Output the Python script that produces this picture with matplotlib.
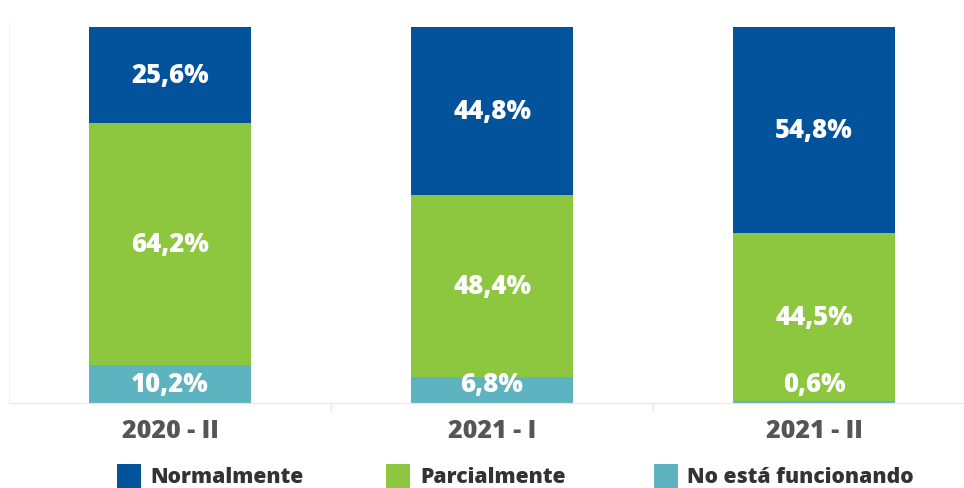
import matplotlib
matplotlib.use("Agg")
import matplotlib.pyplot as plt
from matplotlib.patches import Rectangle
import numpy as np

categories = ["2020 - II", "2021 - I", "2021 - II"]
no_funciona = [10.2, 6.8, 0.6]
parcialmente = [64.2, 48.4, 44.5]
normalmente = [25.6, 44.8, 54.8]
series_names = ["Normalmente", "Parcialmente", "No está funcionando"]

c_norm = "#03529C"
c_parc = "#8DC63F"
c_nof = "#5EB3C0"

plt.rcParams['font.family'] = ['Open Sans', 'DejaVu Sans']

W, H = 964, 489
fig = plt.figure(figsize=(W / 100, H / 100), dpi=100)
ax = fig.add_axes([9 / W, (H - 404) / H, (975 - 9) / W, (404 - 28) / H])

x = np.arange(len(categories))
bw = 0.503
ax.bar(x, no_funciona, bw, color=c_nof)
bottom2 = np.array(no_funciona)
ax.bar(x, parcialmente, bw, bottom=bottom2, color=c_parc)
bottom3 = bottom2 + np.array(parcialmente)
ax.bar(x, normalmente, bw, bottom=bottom3, color=c_norm)

def fmt(v):
    return f"{v:.1f}%".replace(".", ",")

lbl = dict(ha="center", va="center", color="white", fontsize=18.5, fontweight=800)
for xi, v in zip(x, no_funciona):
    ax.text(xi, max(v / 2, 5.0), fmt(v), **lbl)
for xi, b, v in zip(x, bottom2, parcialmente):
    ax.text(xi, b + v / 2, fmt(v), **lbl)
for xi, b, v in zip(x, bottom3, normalmente):
    ax.text(xi, b + v / 2, fmt(v), **lbl)

ax.set_xlim(-0.5, 2.5)
ax.set_ylim(0, 100)
ax.set_yticks([])
ax.set_xticks(x)
ax.set_xticklabels(categories, fontsize=18, fontweight=800, color="#555555")
ax.tick_params(axis="x", which="major", length=0, pad=11)
ax.set_xticks([0.5, 1.5], minor=True)
ax.tick_params(axis="x", which="minor", length=6, color="#e6e6e6", width=1)
for s in ["top", "right"]:
    ax.spines[s].set_visible(False)
ax.spines["bottom"].set_color("#e6e6e6")
ax.spines["left"].set_color("#f2f2f2")
ax.spines["left"].set_bounds(0, 101)

# legend
leg = [(117, c_norm, series_names[0], 150),
       (386, c_parc, series_names[1], 420),
       (654, c_nof, series_names[2], 687)]
for px, col, name, tx in leg:
    fig.add_artist(Rectangle((px / W, (H - 489) / H), 24 / W, 24 / H,
                             transform=fig.transFigure, color=col, lw=0))
    fig.text(tx / W, (H - 478) / H, name, ha="left", va="center",
             fontsize=15.2, fontweight=800, color="#333333")

fig.savefig("out.png", dpi=100)
